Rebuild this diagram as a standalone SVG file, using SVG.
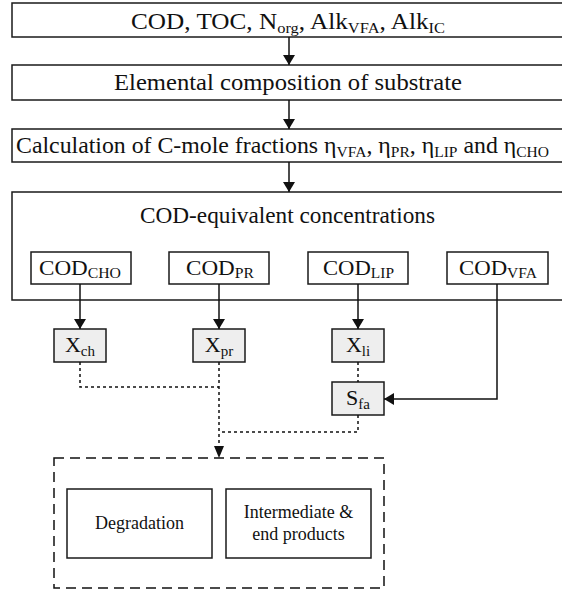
<svg xmlns="http://www.w3.org/2000/svg" width="562" height="590" viewBox="0 0 562 590">
<style>
.box{fill:#fff;stroke:#1a1a1a;stroke-width:1.5}
.xb{fill:#eeeeee;stroke:#1a1a1a;stroke-width:1.5}
.t{font-family:"Liberation Serif",Tinos,"Times New Roman",serif;fill:#111;font-size:23px}
.c{font-family:"Liberation Serif",Tinos,"Times New Roman",serif;fill:#111;font-size:22px}
.s{font-size:15px}
.sm{font-family:"Liberation Serif",Tinos,"Times New Roman",serif;fill:#111;font-size:18px}
.ln{fill:none;stroke:#111;stroke-width:1.5}
.dot{fill:none;stroke:#111;stroke-width:1.5;stroke-dasharray:3 3}
.dash{fill:none;stroke:#111;stroke-width:1.5;stroke-dasharray:10 6}
</style>
<defs>
<marker id="ah" viewBox="0 0 10 12" refX="10" refY="6" markerWidth="10" markerHeight="12" markerUnits="userSpaceOnUse" orient="auto">
<path d="M0,0 L10,6 L0,12 Z" fill="#111"/>
</marker>
</defs>
<g id="n1"><rect class="box" x="12" y="3" width="560" height="34"/>
<text class="t" x="288" y="29" text-anchor="middle" textLength="314" lengthAdjust="spacingAndGlyphs">COD, TOC, N<tspan class="s" dy="4">org</tspan><tspan dy="-4">, Alk</tspan><tspan class="s" dy="4">VFA</tspan><tspan dy="-4">, Alk</tspan><tspan class="s" dy="4">IC</tspan></text></g>
<g id="n2"><rect class="box" x="12" y="65" width="560" height="35"/>
<text class="t" x="288" y="90" text-anchor="middle" textLength="348" lengthAdjust="spacingAndGlyphs">Elemental composition of substrate</text></g>
<g id="n3"><rect class="box" x="12" y="129" width="560" height="33"/>
<text class="t" x="16" y="153" textLength="533" lengthAdjust="spacingAndGlyphs">Calculation of C-mole fractions η<tspan class="s" dy="4">VFA</tspan><tspan dy="-4">, η</tspan><tspan class="s" dy="4">PR</tspan><tspan dy="-4">, η</tspan><tspan class="s" dy="4">LIP</tspan><tspan dy="-4"> and η</tspan><tspan class="s" dy="4">CHO</tspan></text></g>
<g id="n4"><rect class="box" x="12" y="192" width="560" height="108"/>
<text class="t" x="287.5" y="223" text-anchor="middle" textLength="295" lengthAdjust="spacingAndGlyphs">COD-equivalent concentrations</text></g>
<g id="cod_cho"><rect class="box" x="31" y="252" width="100" height="32"/>
<text class="c" x="80" y="275" text-anchor="middle" textLength="82" lengthAdjust="spacingAndGlyphs">COD<tspan class="s" dy="3">CHO</tspan></text></g>
<g id="cod_pr"><rect class="box" x="169" y="252" width="100" height="32"/>
<text class="c" x="220" y="275" text-anchor="middle" textLength="68" lengthAdjust="spacingAndGlyphs">COD<tspan class="s" dy="3">PR</tspan></text></g>
<g id="cod_lip"><rect class="box" x="308" y="252" width="100" height="32"/>
<text class="c" x="358.5" y="275" text-anchor="middle" textLength="71" lengthAdjust="spacingAndGlyphs">COD<tspan class="s" dy="3">LIP</tspan></text></g>
<g id="cod_vfa"><rect class="box" x="447" y="252" width="101" height="32"/>
<text class="c" x="498" y="275" text-anchor="middle" textLength="78" lengthAdjust="spacingAndGlyphs">COD<tspan class="s" dy="3">VFA</tspan></text></g>
<g id="xch"><rect class="xb" x="54" y="329" width="52" height="33"/>
<text class="c" x="80" y="352" text-anchor="middle">X<tspan class="s" dy="4">ch</tspan></text></g>
<g id="xpr"><rect class="xb" x="193" y="329" width="52" height="33"/>
<text class="c" x="219" y="352" text-anchor="middle">X<tspan class="s" dy="4">pr</tspan></text></g>
<g id="xli"><rect class="xb" x="332" y="329" width="52" height="33"/>
<text class="c" x="358" y="352" text-anchor="middle">X<tspan class="s" dy="4">li</tspan></text></g>
<g id="sfa"><rect class="xb" x="332" y="382" width="52" height="33"/>
<text class="c" x="358" y="405" text-anchor="middle">S<tspan class="s" dy="4">fa</tspan></text></g>
<g id="group"><rect class="dash" x="54" y="458" width="330" height="130"/></g>
<g id="deg"><rect class="box" x="67" y="489" width="145" height="69"/>
<text class="sm" x="139.5" y="529" text-anchor="middle">Degradation</text></g>
<g id="prod"><rect class="box" x="226" y="489" width="145" height="69"/>
<text class="sm" x="298.5" y="518" text-anchor="middle">Intermediate &amp;</text>
<text class="sm" x="298.5" y="540" text-anchor="middle">end products</text></g>
<g id="connectors">
<path class="ln" d="M289,37 V65" marker-end="url(#ah)"/>
<path class="ln" d="M289,100 V129" marker-end="url(#ah)"/>
<path class="ln" d="M289,162 V192" marker-end="url(#ah)"/>
<path class="ln" d="M80,284 V329" marker-end="url(#ah)"/>
<path class="ln" d="M219,284 V329" marker-end="url(#ah)"/>
<path class="ln" d="M358,284 V329" marker-end="url(#ah)"/>
<path class="ln" d="M497,284 V399 H384" marker-end="url(#ah)"/>
<path class="dot" d="M80,362 V387 H219"/>
<path class="dot" d="M358,362 V382"/>
<path class="dot" d="M358,415 V432 H219"/>
<path class="dot" d="M219,362 V450"/>
<path d="M214,446 L219,458 L224,446 Z" fill="#111"/>
</g>
</svg>
